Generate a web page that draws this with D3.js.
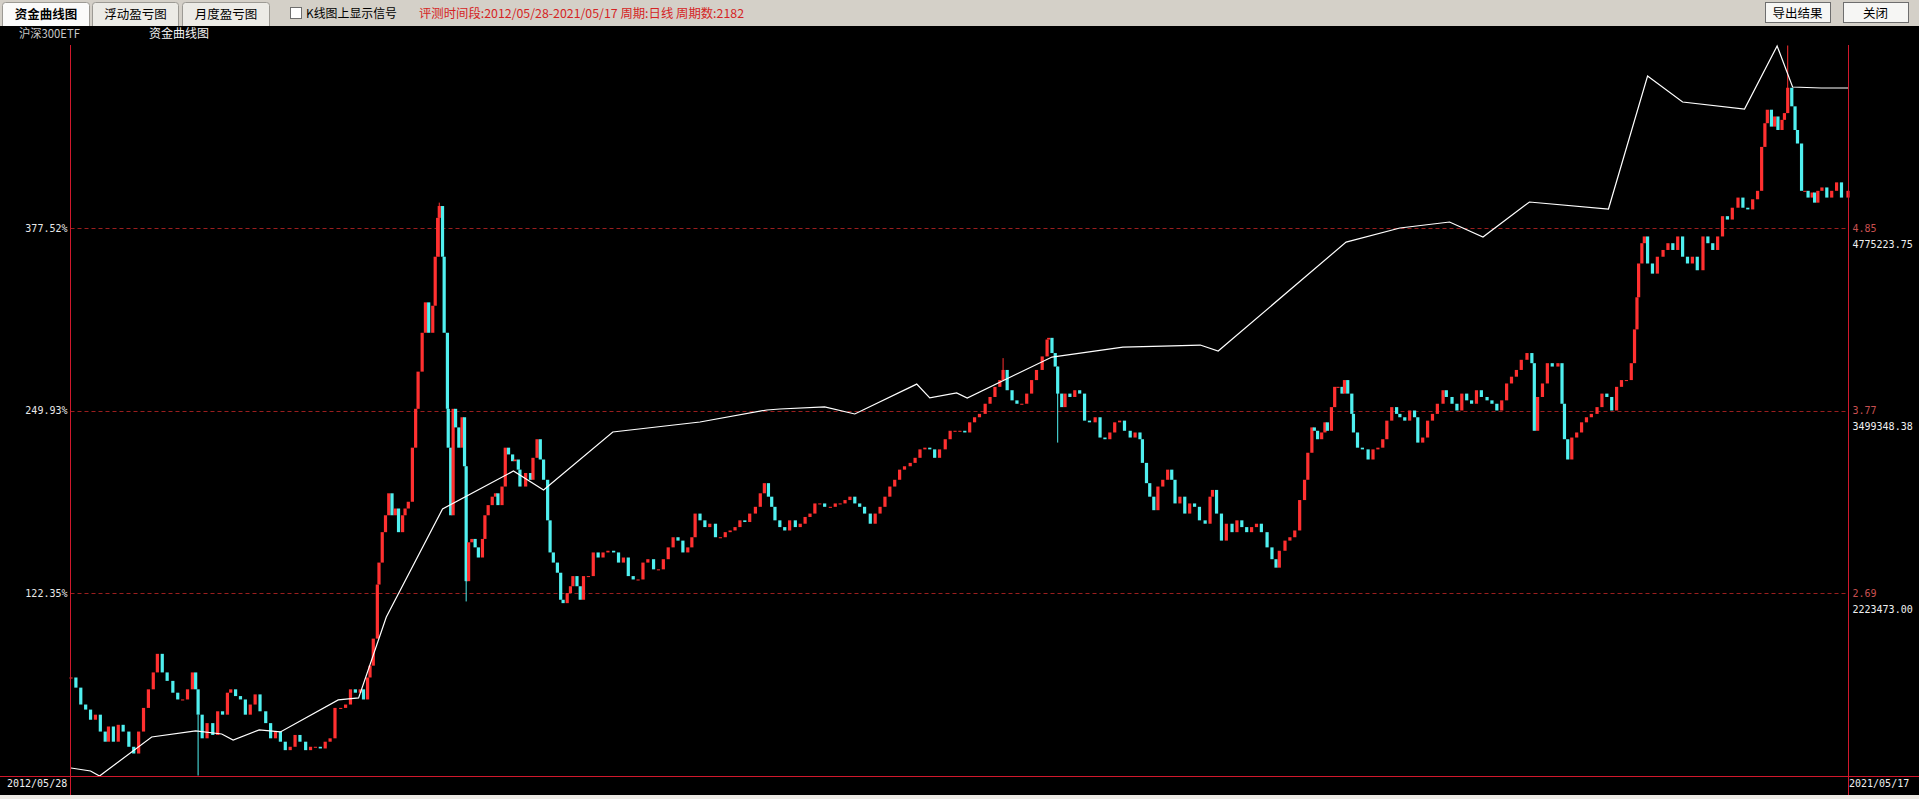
<!DOCTYPE html>
<html><head><meta charset="utf-8">
<script src="https://cdn.jsdelivr.net/npm/d3@7"></script>
<style>html,body{margin:0;padding:0;background:#000;overflow:hidden}</style>
</head><body><svg id="c" width="1919" height="799"></svg>
<script>
// ---- data ----
const barCount = 2182;
const dateLabels = ["2012/05/28", "2021/05/17"];
const tabs = ["资金曲线图", "浮动盈亏图", "月度盈亏图"];
const headerInfo = "评测时间段:2012/05/28-2021/05/17 周期:日线 周期数:2182";
const priceTicks = [4.85, 3.77, 2.69];
const pctTicks = [377.52, 249.93, 122.35];
const amountLabels = ["4775223.75", "3499348.38", "2223473.00"];
// [bar index, close] of 沪深300ETF
const priceBars = [[0,2.19],[6,2.13],[12,2.03],[18,2.00],[24,1.94],[30,1.97],[36,1.87],[42,1.81],[46,1.90],[52,1.81],[58,1.91],[64,1.87],[71,1.78],[77,1.74],[83,1.87],[89,2.01],[95,2.12],[101,2.22],[106,2.33],[112,2.22],[118,2.17],[125,2.10],[131,2.06],[137,2.06],[143,2.12],[149,2.22],[153,2.12],[156,1.97],[161,1.83],[167,1.92],[174,1.85],[180,1.99],[186,1.97],[192,2.10],[196,2.12],[202,2.08],[208,2.06],[214,1.97],[220,2.03],[226,2.09],[232,1.99],[239,1.92],[245,1.83],[251,1.87],[257,1.81],[263,1.76],[269,1.78],[275,1.85],[281,1.81],[288,1.76],[294,1.78],[300,1.78],[306,1.77],[312,1.81],[318,1.83],[324,2.01],[331,2.01],[337,2.03],[343,2.12],[349,2.10],[355,2.12],[359,2.06],[364,2.19],[367,2.26],[371,2.42],[376,2.74],[378,2.87],[382,3.05],[386,3.15],[390,3.28],[394,3.15],[398,3.19],[402,3.05],[407,3.15],[410,3.19],[414,3.23],[419,3.55],[423,3.78],[426,4.00],[431,4.23],[435,4.41],[439,4.23],[444,4.39],[447,4.68],[450,4.91],[452,4.98],[456,4.68],[458,4.23],[462,3.78],[463,3.55],[466,3.15],[469,3.78],[472,3.67],[476,3.55],[480,3.73],[483,3.44],[485,2.76],[488,2.99],[492,3.01],[496,2.96],[500,2.90],[505,3.01],[508,3.15],[512,3.21],[517,3.26],[521,3.28],[524,3.21],[529,3.32],[533,3.55],[537,3.51],[542,3.47],[545,3.48],[549,3.42],[551,3.32],[558,3.40],[564,3.36],[567,3.49],[572,3.60],[576,3.48],[580,3.36],[585,3.12],[588,2.93],[592,2.87],[597,2.81],[601,2.65],[604,2.63],[609,2.69],[613,2.73],[616,2.79],[621,2.73],[625,2.65],[629,2.79],[635,2.79],[641,2.93],[647,2.90],[653,2.93],[659,2.94],[666,2.93],[672,2.87],[678,2.90],[684,2.79],[690,2.77],[696,2.77],[702,2.87],[708,2.89],[715,2.83],[721,2.83],[727,2.89],[733,2.96],[739,3.02],[745,3.00],[751,2.93],[757,2.96],[762,3.02],[766,3.16],[772,3.12],[778,3.08],[784,3.10],[791,3.02],[797,3.02],[803,3.05],[809,3.06],[815,3.08],[821,3.12],[827,3.11],[833,3.16],[840,3.20],[846,3.28],[851,3.34],[856,3.26],[860,3.20],[864,3.12],[870,3.08],[876,3.06],[882,3.12],[889,3.08],[895,3.10],[901,3.14],[907,3.16],[913,3.22],[919,3.22],[925,3.20],[932,3.20],[938,3.22],[944,3.22],[950,3.24],[956,3.26],[962,3.22],[968,3.20],[974,3.16],[981,3.10],[987,3.16],[993,3.20],[999,3.26],[1005,3.32],[1011,3.36],[1017,3.42],[1023,3.44],[1030,3.46],[1036,3.49],[1042,3.54],[1048,3.55],[1054,3.54],[1060,3.49],[1066,3.54],[1073,3.60],[1079,3.65],[1085,3.65],[1091,3.65],[1097,3.64],[1103,3.70],[1109,3.73],[1115,3.75],[1122,3.81],[1128,3.85],[1134,3.91],[1140,3.95],[1144,4.01],[1149,3.89],[1155,3.83],[1161,3.81],[1167,3.81],[1173,3.87],[1179,3.95],[1185,4.01],[1192,4.09],[1198,4.19],[1200,4.20],[1204,4.11],[1208,4.03],[1211,3.87],[1216,3.79],[1220,3.87],[1226,3.85],[1232,3.89],[1238,3.87],[1244,3.71],[1250,3.70],[1257,3.73],[1263,3.61],[1269,3.60],[1275,3.64],[1281,3.70],[1287,3.71],[1293,3.65],[1300,3.61],[1306,3.64],[1312,3.60],[1315,3.46],[1320,3.34],[1324,3.26],[1329,3.18],[1334,3.32],[1340,3.36],[1346,3.42],[1351,3.36],[1355,3.22],[1361,3.26],[1367,3.16],[1373,3.22],[1379,3.20],[1385,3.12],[1392,3.10],[1398,3.26],[1401,3.30],[1406,3.16],[1412,3.00],[1418,3.10],[1425,3.05],[1431,3.12],[1437,3.08],[1443,3.05],[1449,3.08],[1455,3.10],[1461,3.05],[1468,2.96],[1474,2.89],[1479,2.84],[1483,2.94],[1490,3.00],[1496,3.02],[1502,3.06],[1508,3.24],[1514,3.36],[1518,3.52],[1523,3.67],[1526,3.65],[1530,3.60],[1535,3.64],[1539,3.70],[1542,3.65],[1547,3.79],[1551,3.91],[1555,3.91],[1560,3.87],[1563,3.95],[1567,3.87],[1572,3.75],[1574,3.64],[1579,3.55],[1585,3.54],[1592,3.48],[1598,3.54],[1604,3.55],[1610,3.60],[1615,3.71],[1621,3.79],[1627,3.75],[1631,3.73],[1637,3.71],[1643,3.77],[1649,3.73],[1653,3.58],[1659,3.61],[1665,3.71],[1671,3.75],[1677,3.81],[1684,3.89],[1688,3.85],[1695,3.81],[1701,3.77],[1707,3.87],[1713,3.83],[1719,3.81],[1725,3.89],[1731,3.85],[1738,3.83],[1744,3.81],[1750,3.77],[1756,3.83],[1762,3.93],[1768,3.97],[1774,4.01],[1780,4.07],[1787,4.11],[1793,4.05],[1796,3.65],[1800,3.85],[1806,3.93],[1812,4.05],[1818,4.03],[1825,4.05],[1830,3.81],[1833,3.60],[1837,3.48],[1842,3.61],[1848,3.64],[1854,3.70],[1860,3.73],[1866,3.75],[1873,3.79],[1879,3.87],[1885,3.85],[1891,3.77],[1897,3.91],[1903,3.95],[1909,3.95],[1915,4.05],[1919,4.25],[1922,4.44],[1924,4.64],[1928,4.76],[1931,4.80],[1935,4.64],[1941,4.58],[1947,4.68],[1954,4.72],[1960,4.76],[1966,4.72],[1972,4.80],[1978,4.68],[1984,4.64],[1990,4.68],[1996,4.60],[2003,4.80],[2009,4.76],[2015,4.72],[2021,4.80],[2027,4.92],[2033,4.90],[2039,4.97],[2046,5.03],[2052,4.97],[2058,4.96],[2064,5.02],[2070,5.07],[2075,5.33],[2079,5.47],[2082,5.55],[2087,5.45],[2091,5.51],[2095,5.43],[2100,5.49],[2103,5.53],[2107,5.68],[2112,5.57],[2116,5.43],[2119,5.35],[2124,5.07],[2128,5.07],[2132,5.03],[2137,5.06],[2140,5.00],[2144,5.07],[2149,5.09],[2155,5.03],[2161,5.07],[2167,5.12],[2173,5.03],[2181,5.07]];
// long shadows: [bar index, low, high]
const spikes = [[156,1.61,1.97],[452,4.68,5.00],[485,2.64,3.44],[1144,3.95,4.08],[1211,3.58,4.03],[2107,5.53,5.93]];
// equity curve: [bar index, return %]
const equityCurve = [[0,0],[24,-2.1],[35,-5.6],[99,21.7],[153,25.9],[185,23.8],[199,19.6],[231,26.6],[257,25.2],[328,47.6],[353,49.0],[387,105.6],[456,181.1],[543,207.6],[580,194.3],[665,234.9],[772,241.9],[854,250.3],[870,251.0],[925,252.4],[962,247.5],[1038,268.4],[1054,258.7],[1087,262.2],[1100,258.7],[1204,287.3],[1291,294.3],[1340,295.0],[1386,295.7],[1408,291.5],[1565,367.7],[1631,377.5],[1692,381.7],[1733,371.2],[1790,395.7],[1887,390.8],[1935,483.8],[1978,465.6],[2054,460.7],[2094,504.8],[2113,476.1],[2148,475.4],[2181,475.4]];

// ---- drawing ----
const svg = d3.select("#c");
const W = 1919, H = 799;
const L = 70.5, R = 1848.5, B = 776, T = 45;
const x = d3.scaleLinear().domain([0, barCount - 1]).range([L + 0.5, R - 0.5]);
const yP = d3.scaleLinear().domain([2.69, 4.85]).range([593, 228]);
const yE = d3.scaleLinear().domain([122.35, 377.52]).range([593, 228]);
const RED = "#d0182c";
const CJK = "'Noto Sans CJK SC','Noto Sans',sans-serif";
const MONO = "'DejaVu Sans Mono','Liberation Mono',monospace";

svg.append("rect").attr("width", W).attr("height", H).attr("fill", "#000");

// gridlines
svg.append("g").selectAll("line").data(pctTicks).join("line")
  .attr("x1", L).attr("x2", R).attr("y1", d => Math.round(yE(d)) + 0.5).attr("y2", d => Math.round(yE(d)) + 0.5)
  .attr("stroke", "#9a1e1e").attr("stroke-dasharray", "4,3");

// candles
const candles = priceBars.map((d, i) => {
  const o = i > 0 ? priceBars[i - 1][1] : d[1];
  return {i: d[0], o, c: d[1]};
});
const UP = "#ff3030", DN = "#50f0f0";
const cg = svg.append("g");
cg.selectAll("line.w").data(spikes).join("line")
  .attr("x1", d => x(d[0])).attr("x2", d => x(d[0]))
  .attr("y1", d => yP(d[1])).attr("y2", d => yP(d[2]))
  .attr("stroke", d => { const c = candles.find(k => k.i === d[0]); return c && c.c >= c.o ? UP : DN; })
  .attr("stroke-width", 1);
cg.selectAll("rect").data(candles).join("rect")
  .attr("x", d => x(d.i) - 1.6).attr("width", 3.2)
  .attr("y", d => yP(Math.max(d.o, d.c)))
  .attr("height", d => Math.max(1, Math.abs(yP(d.o) - yP(d.c))))
  .attr("fill", d => d.c >= d.o ? UP : DN);

// equity curve
svg.append("path").datum(equityCurve)
  .attr("d", d3.line().x(d => x(d[0])).y(d => yE(d[1])))
  .attr("fill", "none").attr("stroke", "#ffffff").attr("stroke-width", 1.2);

// frame lines
svg.append("line").attr("x1", 0).attr("x2", W).attr("y1", B + 0.5).attr("y2", B + 0.5).attr("stroke", RED);
[L, R].forEach(v => svg.append("line").attr("x1", v).attr("x2", v).attr("y1", T).attr("y2", 795).attr("stroke", RED));

// left axis (return %)
const axL = svg.append("g").attr("transform", `translate(${L - 2},0)`)
  .call(d3.axisLeft(yE).tickValues(pctTicks).tickSize(0).tickPadding(1).tickFormat(d => d.toFixed(2) + "%"));
axL.select(".domain").remove();
axL.selectAll("text").attr("fill", "#e8e8e8").style("font-family", MONO).style("font-size", "10px");

// right axis (price)
const axR = svg.append("g").attr("transform", `translate(${R + 3},0)`)
  .call(d3.axisRight(yP).tickValues(priceTicks).tickSize(0).tickPadding(1).tickFormat(d3.format(".2f")));
axR.select(".domain").remove();
axR.selectAll("text").attr("fill", "#c85050").style("font-family", MONO).style("font-size", "10px");
svg.append("g").selectAll("text").data(pctTicks).join("text")
  .attr("x", R + 4).attr("y", d => yE(d) + 16).attr("dy", "0.35em")
  .attr("fill", "#f0f0f0").style("font-family", MONO).style("font-size", "10px")
  .text((d, i) => amountLabels[i]);

// dates
svg.append("text").attr("x", 7).attr("y", 787).text(dateLabels[0])
  .attr("fill", "#f0f0f0").style("font-family", MONO).style("font-size", "10px");
svg.append("text").attr("x", R + 0.5).attr("y", 787).text(dateLabels[1])
  .attr("fill", "#f0f0f0").style("font-family", MONO).style("font-size", "10px");

// chart titles
svg.append("text").attr("x", 19).attr("y", 38).text("沪深300ETF").attr("textLength", 61).attr("lengthAdjust", "spacingAndGlyphs")
  .attr("fill", "#c8c8c8").style("font-family", CJK).style("font-size", "12px");
svg.append("text").attr("x", 149).attr("y", 38).text("资金曲线图").attr("textLength", 60).attr("lengthAdjust", "spacingAndGlyphs")
  .attr("fill", "#f4f4f4").style("font-family", CJK).style("font-size", "12px");

// bottom strip
svg.append("rect").attr("x", 0).attr("y", 795).attr("width", W).attr("height", 4).attr("fill", "#ece9e4");

// toolbar
svg.append("rect").attr("x", 0).attr("y", 0).attr("width", W).attr("height", 26).attr("fill", "#d4d0c8");
const tabX = [[2, 90], [92, 179], [182, 270]];
tabs.forEach((t, i) => {
  const [a, b] = tabX[i];
  svg.append("path")
    .attr("d", `M${a + 0.5},26 V5.5 Q${a + 0.5},2.5 ${a + 3.5},2.5 H${b - 3.5} Q${b - 0.5},2.5 ${b - 0.5},5.5 V26`)
    .attr("fill", i === 0 ? "#fbfbfa" : "#ecebe6").attr("stroke", "#9c9a94");
  svg.append("text").attr("x", (a + b) / 2).attr("y", 19).attr("text-anchor", "middle").text(t)
    .attr("fill", "#000").style("font-family", CJK).style("font-size", "12.5px")
    .style("font-weight", i === 0 ? "bold" : "normal");
});
svg.append("rect").attr("x", 290.5).attr("y", 7.5).attr("width", 11).attr("height", 11)
  .attr("fill", "#fff").attr("stroke", "#6e6e6e");
svg.append("text").attr("x", 306).attr("y", 18).text("K线图上显示信号").attr("textLength", 91).attr("lengthAdjust", "spacingAndGlyphs")
  .attr("fill", "#000").style("font-family", CJK).style("font-size", "12px");
svg.append("text").attr("x", 419).attr("y", 18).text(headerInfo).attr("textLength", 325).attr("lengthAdjust", "spacingAndGlyphs")
  .attr("fill", "#d42424").style("font-family", CJK).style("font-size", "12px");
[["导出结果", 1765, 1830], ["关闭", 1843, 1908]].forEach(([t, a, b]) => {
  svg.append("rect").attr("x", a + 0.5).attr("y", 2.5).attr("width", b - a).attr("height", 20)
    .attr("fill", "#f6f6f4").attr("stroke", "#6e6e6e");
  svg.append("text").attr("x", (a + b) / 2).attr("y", 17.5).attr("text-anchor", "middle").text(t)
    .attr("fill", "#000").style("font-family", CJK).style("font-size", "12.5px");
});
</script></body></html>
